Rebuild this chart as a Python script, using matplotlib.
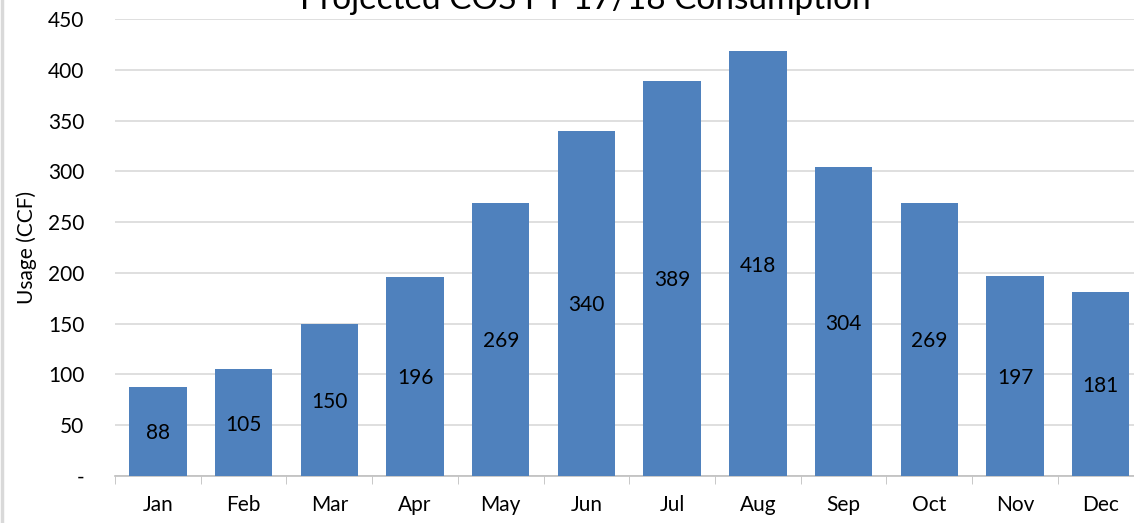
import numpy as np
import matplotlib.pyplot as plt
from matplotlib.lines import Line2D

months = ['Jan', 'Feb', 'Mar', 'Apr', 'May', 'Jun', 'Jul', 'Aug', 'Sep', 'Oct', 'Nov', 'Dec']
usage = [88, 105, 150, 196, 269, 340, 389, 418, 304, 269, 197, 181]
yticks = [0, 50, 100, 150, 200, 250, 300, 350, 400, 450]
ytick_labels = ['-'] + [str(v) for v in yticks[1:]]

plt.rcParams['font.family'] = ['Lato', 'DejaVu Sans']

fig = plt.figure(figsize=(11.34, 5.23), dpi=100)
ax = fig.add_axes([0.1014, 0.0899, 0.907, 0.8738])

x = np.arange(len(months))
bars = ax.bar(x, usage, width=0.67, color='#4F81BD', zorder=3)
for xi, v in zip(x, usage):
    ax.text(xi, v / 2 - 2, str(v), ha='center', va='center', fontsize=15, color='black', zorder=4)

ax.set_xlim(-0.5, len(months) - 0.5)
ax.set_ylim(0, 450)
ax.set_yticks(yticks)
ax.set_yticklabels(ytick_labels, fontsize=15)
ax.set_xticks(x)
ax.set_xticklabels(months, fontsize=15)
ax.set_xticks(np.arange(-0.5, len(months), 1), minor=True)
ax.tick_params(axis='x', which='major', length=0, pad=14)
ax.tick_params(axis='x', which='minor', length=6, color='#BFBFBF')
ax.tick_params(axis='y', length=0, pad=22)
ax.grid(axis='y', color='#D9D9D9', linewidth=1.2, zorder=0)
for s in ['top', 'right', 'left']:
    ax.spines[s].set_visible(False)
ax.spines['bottom'].set_color('#BFBFBF')
ax.spines['bottom'].set_linewidth(1.2)

ax.set_ylabel('Usage (CCF)', fontsize=15, labelpad=8)

fig.text(585 / 1134, 1 - 9 / 523, 'Projected COS FY 17/18 Consumption', ha='center', va='baseline', fontsize=24)
fig.add_artist(Line2D([0.0015, 0.0015], [0, 1], color='#D9D9D9', linewidth=2.5, transform=fig.transFigure))

fig.savefig('out.png', dpi=100)
